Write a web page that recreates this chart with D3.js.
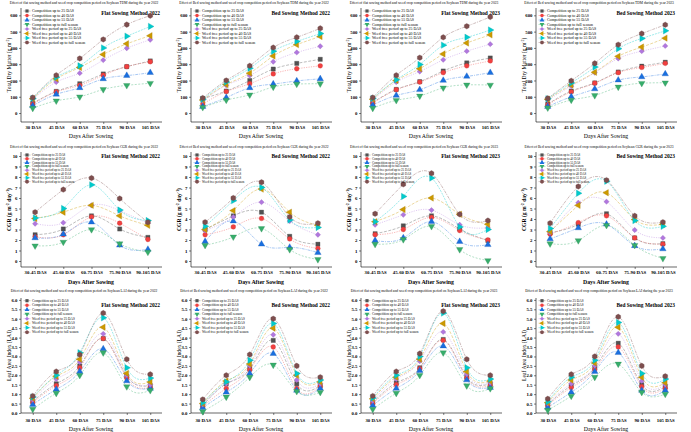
<!DOCTYPE html>
<html>
<head>
<meta charset="utf-8">
<script src="https://cdn.jsdelivr.net/npm/d3@7"></script>
<style>
body { margin: 0; background: #fff; }
svg { display: block; font-family: "Liberation Serif", "Times New Roman", serif; }
</style>
</head>
<body>
<script>
// legend entries, same order in every panel
const seriesNames = [
  "Competition up to 25 DAS",
  "Competition up to 40 DAS",
  "Competition up to 55 DAS",
  "Competition up to full season",
  "Weed free period up to 25 DAS",
  "Weed free period up to 40 DAS",
  "Weed free period up to 55 DAS",
  "Weed free period up to full season"
];

const samplingDays = ["30 DAS", "45 DAS", "60 DAS", "75 DAS", "90 DAS", "105 DAS"];
const cgrIntervals = ["30-45 DAS", "45-60 DAS", "60-75 DAS", "75-90 DAS", "90-105 DAS"];

// Total dry matter (g m-2), one row per series
const tdmFlat2022 = [
  [60, 133, 180, 240, 285, 320],
  [55, 130, 170, 232, 285, 315],
  [45, 115, 155, 210, 230, 248],
  [30, 75, 100, 145, 170, 183],
  [85, 190, 245, 325, 398, 450],
  [88, 210, 280, 360, 425, 475],
  [90, 220, 290, 400, 472, 532],
  [95, 232, 335, 452, 543, 598]
];
const tdmBed2022 = [
  [88, 135, 200, 270, 305, 330],
  [55, 132, 180, 240, 272, 290],
  [40, 95, 155, 178, 197, 210],
  [35, 80, 112, 160, 178, 180],
  [75, 170, 230, 315, 372, 410],
  [80, 175, 245, 350, 420, 470],
  [85, 190, 275, 380, 440, 488],
  [92, 200, 290, 402, 465, 520]
];
const tdmFlat2023 = [
  [65, 145, 193, 258, 308, 338],
  [60, 143, 190, 248, 290, 320],
  [50, 108, 143, 200, 225, 248],
  [30, 78, 105, 155, 173, 172],
  [80, 190, 255, 327, 380, 423],
  [85, 200, 272, 363, 430, 480],
  [90, 205, 298, 417, 465, 510],
  [95, 232, 340, 465, 533, 590]
];
const tdmBed2023 = [
  [55, 135, 185, 252, 288, 312],
  [50, 130, 183, 248, 280, 305],
  [40, 100, 148, 202, 222, 240],
  [32, 80, 108, 160, 183, 186],
  [80, 165, 248, 335, 380, 412],
  [85, 172, 250, 348, 405, 460],
  [88, 185, 282, 395, 458, 505],
  [90, 198, 305, 420, 488, 542]
];

// Crop growth rate (g m-2 day-1)
const cgrFlat2022 = [
  [2.5, 3.05, 4.3, 3.05, 2.25],
  [2.3, 2.5, 4.2, 3.6, 2.05],
  [2.2, 2.55, 3.7, 1.5, 1.1],
  [1.45, 1.8, 3.0, 1.65, 0.85],
  [3.55, 3.65, 5.3, 4.8, 3.6],
  [4.05, 4.65, 5.3, 4.3, 3.4],
  [4.1, 5.0, 7.25, 4.85, 3.85],
  [4.65, 6.8, 7.9, 5.95, 3.7]
];
const cgrBed2022 = [
  [3.0, 4.3, 4.65, 2.35, 1.6],
  [2.5, 3.25, 4.05, 2.1, 1.2],
  [1.85, 3.8, 1.6, 1.3, 0.8],
  [1.5, 2.3, 3.1, 1.1, 0.15],
  [2.9, 4.2, 5.6, 3.8, 2.5],
  [3.0, 4.8, 6.85, 4.65, 3.4],
  [3.3, 5.75, 7.0, 3.9, 3.2],
  [3.7, 6.0, 7.5, 4.2, 3.6]
];
const cgrFlat2023 = [
  [2.6, 3.35, 4.3, 3.05, 1.95],
  [2.5, 3.0, 4.15, 2.9, 2.0],
  [1.95, 2.2, 3.75, 1.85, 1.55],
  [1.6, 2.05, 3.3, 1.1, 0.05],
  [3.45, 4.4, 4.85, 3.45, 3.15],
  [3.75, 4.9, 6.0, 4.45, 3.5],
  [3.75, 6.15, 7.9, 3.25, 3.0],
  [4.5, 7.3, 8.35, 4.45, 3.85]
];
const cgrBed2023 = [
  [2.7, 3.5, 4.5, 2.2, 1.65],
  [2.55, 3.65, 4.3, 2.2, 1.6],
  [2.1, 3.15, 3.5, 1.45, 1.15],
  [1.65, 1.95, 3.4, 1.5, 0.25],
  [2.7, 5.55, 5.65, 2.95, 2.2],
  [2.8, 5.3, 6.5, 3.95, 3.5],
  [3.1, 6.45, 7.6, 3.85, 3.3],
  [3.6, 7.1, 7.7, 4.3, 3.7]
];

// Leaf area index
const laiFlat2022 = [
  [0.62, 1.55, 2.5, 3.95, 1.95, 1.45],
  [0.55, 1.45, 2.4, 3.95, 1.85, 1.35],
  [0.45, 1.25, 2.2, 3.4, 1.7, 1.3],
  [0.2, 1.05, 2.0, 3.2, 1.4, 1.2],
  [0.7, 1.8, 2.7, 4.2, 2.0, 1.5],
  [0.78, 1.95, 2.85, 4.55, 2.1, 1.65],
  [0.85, 2.0, 3.2, 5.05, 2.4, 1.85],
  [0.9, 2.2, 3.1, 5.3, 2.85, 2.05]
];
const laiBed2022 = [
  [0.4, 1.55, 2.35, 3.85, 1.55, 1.45],
  [0.35, 1.3, 2.3, 3.5, 1.3, 1.4],
  [0.28, 1.1, 2.1, 3.15, 1.2, 1.3],
  [0.08, 0.85, 1.9, 2.55, 1.15, 1.1],
  [0.45, 1.55, 2.5, 4.15, 1.75, 1.55],
  [0.5, 1.7, 2.6, 4.5, 2.0, 1.65],
  [0.55, 1.65, 2.8, 4.75, 2.1, 1.75],
  [0.72, 2.0, 3.1, 5.0, 2.5, 1.9]
];
const laiFlat2023 = [
  [0.55, 1.6, 2.4, 3.9, 1.9, 1.55],
  [0.5, 1.5, 2.35, 3.85, 1.85, 1.45],
  [0.4, 1.3, 2.25, 3.55, 1.75, 1.35],
  [0.2, 1.05, 2.0, 3.2, 1.45, 1.3],
  [0.65, 1.8, 2.75, 4.3, 2.05, 1.6],
  [0.75, 1.9, 2.85, 4.75, 2.2, 1.7],
  [0.8, 2.0, 3.0, 5.3, 2.4, 1.8],
  [0.9, 2.2, 3.15, 5.4, 2.85, 2.0]
];
const laiBed2023 = [
  [0.45, 1.45, 2.4, 3.7, 1.5, 1.4],
  [0.4, 1.35, 2.3, 3.5, 1.4, 1.3],
  [0.3, 1.1, 2.2, 3.2, 1.2, 1.2],
  [0.15, 0.9, 1.9, 2.6, 1.1, 1.0],
  [0.5, 1.55, 2.5, 4.2, 1.7, 1.5],
  [0.55, 1.75, 2.65, 4.55, 1.9, 1.6],
  [0.6, 1.9, 2.8, 4.8, 2.1, 1.8],
  [0.75, 2.05, 3.0, 5.1, 2.5, 1.95]
];

const colors = ["#515151", "#F14040", "#1A6FDF", "#37AD6B", "#B177DE", "#CC9900", "#00CBCC", "#7D4E4E"];
const dashes = ["3,1.5", "1.2,1.2", "3,1,1,1", "2,1.5", "1.2,1.2", "3,1.5", "2,1", "3,1,1,1"];

const W = 691, H = 432;
const svg = d3.select("body").append("svg").attr("width", W).attr("height", H);

// hexagon symbol (Origin style)
const symbolHexagon = {
  draw(ctx, size) {
    const r = Math.sqrt(size / (1.5 * Math.sqrt(3))) * 1.05;
    for (let k = 0; k < 6; k++) {
      const a = Math.PI / 6 + k * Math.PI / 3;
      const x = r * Math.cos(a), y = r * Math.sin(a);
      if (k === 0) ctx.moveTo(x, y); else ctx.lineTo(x, y);
    }
    ctx.closePath();
  }
};
// [type, rotation]
const markers = [
  [d3.symbolSquare, 0],
  [d3.symbolCircle, 0],
  [d3.symbolTriangle, 0],
  [d3.symbolTriangle, 180],
  [d3.symbolDiamond2, 0],
  [d3.symbolTriangle, -90],
  [d3.symbolTriangle, 90],
  [symbolHexagon, 0]
];

const colX = [0, 170, 340, 515];

const rows = [
  {
    what: "TDM", cats: samplingDays, data: [tdmFlat2022, tdmBed2022, tdmFlat2023, tdmBed2023],
    domain: [-55, 645], top: 8, bottom: 122, ticks: d3.range(0, 601, 100), fmt: d3.format("d"),
    yLabel: ["Total Dry Matter (g m", "-2", ")"], yBold: false, xLabelBold: false,
    caption: 4, title: 14.5, tickY: 129, xLabY: 138, legY: 11, legStep: 4.5, legFont: 3.9
  },
  {
    what: "CGR", cats: cgrIntervals, data: [cgrFlat2022, cgrBed2022, cgrFlat2023, cgrBed2023],
    domain: [-0.57, 10.38], top: 152, bottom: 267, ticks: d3.range(0, 11, 1), fmt: d3.format("d"),
    yLabel: ["CGR (g m", "-2", " day", "-1", ")"], yBold: true, xLabelBold: true,
    caption: 148, title: 158, tickY: 273.5, xLabY: 284, legY: 155, legStep: 3.8, legFont: 3.1
  },
  {
    what: "LAI", cats: samplingDays, data: [laiFlat2022, laiBed2022, laiFlat2023, laiBed2023],
    domain: [0, 6.1], top: 298, bottom: 413, ticks: d3.range(0, 6.01, 0.5), fmt: d3.format(".1f"),
    yLabel: ["Leaf Area Index (LAI)"], yBold: false, xLabelBold: false,
    caption: 292, title: 307, tickY: 421.5, xLabY: 431, legY: 300.7, legStep: 4.5, legFont: 3.4
  }
];

const methods = ["flat", "Bed", "flat", "Bed"];
const titles = ["Flat Sowing Method 2022", "Bed Sowing Method 2022", "Flat Sowing Method 2023", "Bed Sowing Method 2023"];
const years = ["2022", "2022", "2023", "2023"];

rows.forEach(row => {
  row.data.forEach((series, c) => {
    const g = svg.append("g").attr("transform", `translate(${colX[c]},0)`);
    const x = d3.scalePoint().domain(row.cats).range([21, 162]).padding(0.5);
    const y = d3.scaleLinear().domain(row.domain).range([row.bottom, row.top]);

    // caption
    g.append("text")
      .attr("x", 84).attr("y", row.caption)
      .attr("text-anchor", "middle")
      .attr("font-size", 3.6)
      .text(`Effect of ${methods[c]} sowing method and weed crop competition period on Soybean ${row.what} during the year ${years[c]}`);

    // axes
    const yAxis = g.append("g").attr("transform", "translate(21,0)")
      .call(d3.axisLeft(y).tickValues(row.ticks).tickFormat(row.fmt).tickSize(2).tickPadding(1.5));
    const xAxis = g.append("g").attr("transform", `translate(0,${row.bottom})`)
      .call(d3.axisBottom(x).tickSize(2).tickPadding(1.5));
    [yAxis, xAxis].forEach(a => {
      a.select(".domain").attr("stroke", "#000").attr("stroke-width", 0.6);
      a.selectAll(".tick line").attr("stroke", "#000").attr("stroke-width", 0.5);
      a.selectAll("text").attr("font-family", "Liberation Serif").attr("font-weight", "bold")
        .attr("font-size", 4.8).attr("fill", "#000");
    });
    xAxis.selectAll("text").attr("y", null).attr("dy", null)
      .attr("transform", `translate(0,${row.tickY - row.bottom})`);
    yAxis.select(".domain").attr("d", `M0,${row.bottom}V${row.top}`);
    xAxis.select(".domain").attr("d", `M21,0H162`);

    // axis titles
    const yl = g.append("text")
      .attr("transform", `translate(10.5,${(row.top + row.bottom) / 2}) rotate(-90)`)
      .attr("text-anchor", "middle")
      .attr("font-size", 5.6)
      .attr("font-weight", row.yBold ? "bold" : "normal");
    row.yLabel.forEach((part, i) => {
      const sup = i % 2 === 1;
      yl.append("tspan").text(part)
        .attr("font-size", sup ? 3.8 : 5.6)
        .attr("dy", sup ? -2 : (i > 0 ? 2 : 0));
    });
    g.append("text")
      .attr("x", 91).attr("y", row.xLabY)
      .attr("text-anchor", "middle")
      .attr("font-size", 5.8)
      .attr("font-weight", row.xLabelBold ? "bold" : "normal")
      .text("Days After Sowing");

    // panel title
    g.append("text")
      .attr("x", 160).attr("y", row.title)
      .attr("text-anchor", "end")
      .attr("font-size", 5.4).attr("font-weight", "bold")
      .text(titles[c]);

    // lines
    const line = d3.line().x((d, i) => x(row.cats[i])).y(d => y(d)).curve(d3.curveNatural);
    g.append("g").selectAll("path")
      .data(series)
      .join("path")
        .attr("d", d => line(d))
        .attr("fill", "none")
        .attr("stroke", (d, i) => colors[i])
        .attr("stroke-opacity", 0.55)
        .attr("stroke-width", 0.7)
        .attr("stroke-dasharray", (d, i) => dashes[i]);

    // markers
    series.forEach((vals, s) => {
      const sym = d3.symbol().type(markers[s][0]).size(18);
      g.append("g").selectAll("path")
        .data(vals)
        .join("path")
          .attr("d", sym)
          .attr("transform", (d, i) => `translate(${x(row.cats[i])},${y(d)}) rotate(${markers[s][1]})`)
          .attr("fill", colors[s])
          .attr("stroke", d3.color(colors[s]).darker(0.6))
          .attr("stroke-width", 0.3);
    });

    // legend
    const leg = g.append("g").attr("transform", `translate(27,${row.legY})`);
    seriesNames.forEach((name, s) => {
      const r = leg.append("g").attr("transform", `translate(0,${s * row.legStep})`);
      r.append("line").attr("x1", -3.5).attr("x2", 3.5)
        .attr("stroke", colors[s]).attr("stroke-width", 0.6).attr("stroke-opacity", 0.6);
      r.append("path")
        .attr("d", d3.symbol().type(markers[s][0]).size(10))
        .attr("transform", `rotate(${markers[s][1]})`)
        .attr("fill", colors[s]);
      r.append("text").attr("x", 5).attr("dy", "0.35em")
        .attr("font-size", row.legFont)
        .text(name);
    });
  });
});
</script>
</body>
</html>
